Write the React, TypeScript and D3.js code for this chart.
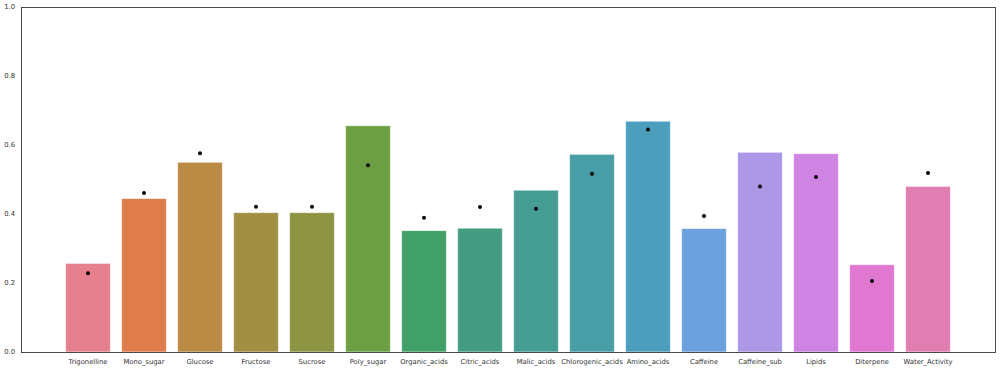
import React, { useEffect, useRef } from 'react';
import * as d3 from 'd3';

const categories = [
  'Trigonelline', 'Mono_sugar', 'Glucose', 'Fructose', 'Sucrose', 'Poly_sugar',
  'Organic_acids', 'Citric_acids', 'Malic_acids', 'Chlorogenic_acids', 'Amino_acids',
  'Caffeine', 'Caffeine_sub', 'Lipids', 'Diterpene', 'Water_Activity',
];
const barValues = [
  0.257, 0.445, 0.550, 0.404, 0.404, 0.656, 0.352, 0.359,
  0.469, 0.573, 0.669, 0.358, 0.579, 0.575, 0.253, 0.480,
];
const dotValues = [
  0.228, 0.461, 0.576, 0.421, 0.421, 0.541, 0.389, 0.420,
  0.415, 0.517, 0.645, 0.394, 0.480, 0.507, 0.206, 0.519,
];
const barColors = [
  '#e6808f', '#de7d4b', '#bb8b46', '#a38f42', '#8d9442', '#6c9f42', '#42a069', '#449d83',
  '#469d94', '#489ea6', '#4b9fbd', '#6ba1df', '#ac98e6', '#cf84e3', '#e077d0', '#e27db2',
];
const yTicks = [0, 0.2, 0.4, 0.6, 0.8, 1.0];

const W = 1000;
const H = 370;
const left = 21;
const right = 995;
const top = 7;
const bottom = 352;

const App = () => {
  const svgRef = useRef<SVGSVGElement>(null);

  useEffect(() => {
    const svg = d3.select(svgRef.current);
    svg.selectAll('*').remove();

    const x = d3.scaleBand<string>()
      .domain(categories)
      .range([60, 956])
      .paddingInner(0.2)
      .paddingOuter(0.1);

    const y = d3.scaleLinear().domain([0, 1]).range([bottom, top]);

    // bars
    svg.append('g')
      .selectAll('rect')
      .data(categories)
      .enter()
      .append('rect')
      .attr('x', d => x(d)!)
      .attr('y', (d, i) => y(barValues[i]))
      .attr('width', x.bandwidth())
      .attr('height', (d, i) => y(0) - y(barValues[i]))
      .attr('fill', (d, i) => barColors[i])
      .attr('stroke', 'rgba(255,255,255,0.6)')
      .attr('stroke-width', 1);

    // dots
    svg.append('g')
      .selectAll('circle')
      .data(categories)
      .enter()
      .append('circle')
      .attr('cx', d => x(d)! + x.bandwidth() / 2)
      .attr('cy', (d, i) => y(dotValues[i]))
      .attr('r', 2)
      .attr('fill', 'black');

    // frame
    svg.append('rect')
      .attr('x', left + 0.5)
      .attr('y', top + 0.5)
      .attr('width', right - left)
      .attr('height', bottom - top)
      .attr('fill', 'none')
      .attr('stroke', '#4a4a4a')
      .attr('stroke-width', 1);

    // y tick labels
    svg.append('g')
      .selectAll('text')
      .data(yTicks)
      .enter()
      .append('text')
      .attr('x', 15)
      .attr('y', d => y(d))
      .attr('dy', '0.32em')
      .attr('text-anchor', 'end')
      .attr('font-family', 'DejaVu Sans')
      .attr('font-size', 6.8)
      .attr('fill', '#333')
      .text(d => d.toFixed(1));

    // x tick labels
    svg.append('g')
      .selectAll('text')
      .data(categories)
      .enter()
      .append('text')
      .attr('x', d => x(d)! + x.bandwidth() / 2)
      .attr('y', bottom + 11.5)
      .attr('text-anchor', 'middle')
      .attr('font-family', 'DejaVu Sans')
      .attr('font-size', 6.8)
      .attr('fill', '#333')
      .text(d => d);
  }, []);

  return (
    <div style={{ position: 'absolute', left: 0, top: 0 }}>
      <svg ref={svgRef} width={W} height={H} style={{ display: 'block', background: 'white' }} />
    </div>
  );
};

export default App;
